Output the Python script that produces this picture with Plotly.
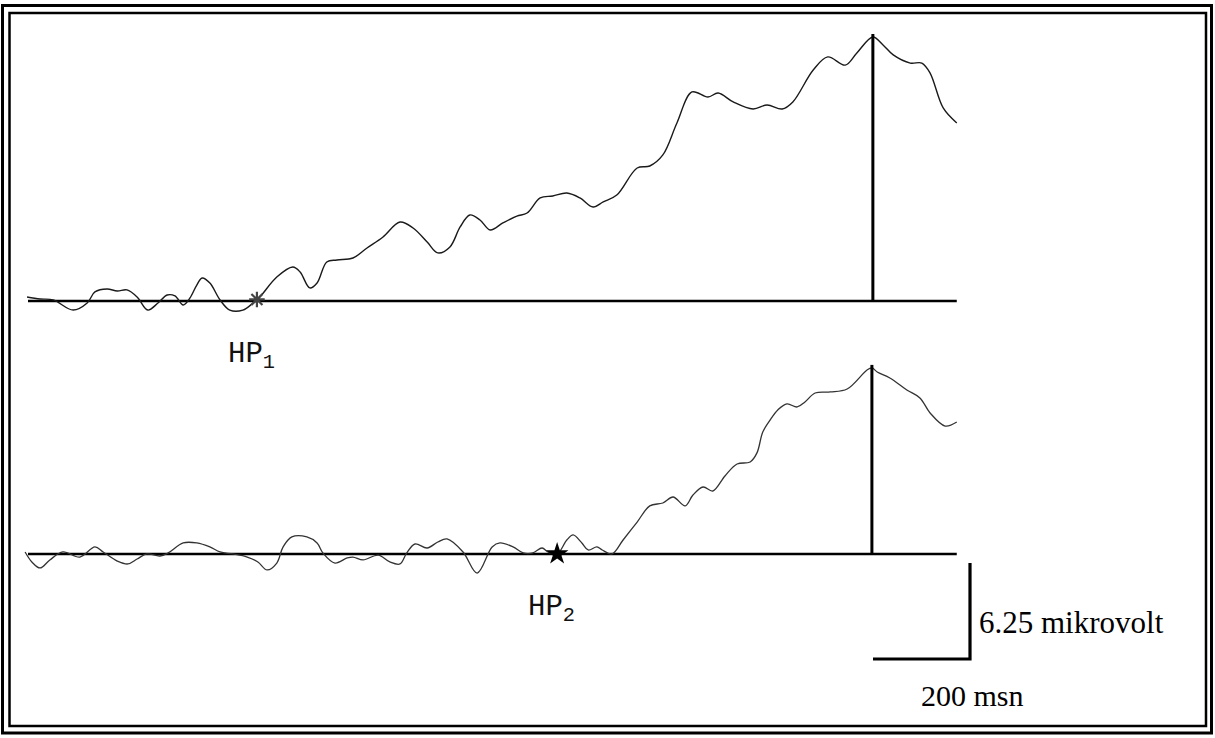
import plotly.graph_objects as go

# ---- data (time in ms, amplitude in microvolt) ----
top_t = [-2, 25, 52, 93, 122, 138, 163, 184, 204, 225, 247, 268, 287, 303, 320, 334, 348, 359, 375, 396,
         416, 443, 464, 478, 513, 546, 561, 581, 596, 616, 637, 670, 699, 732, 767, 794, 823, 845, 870, 891,
         911, 932, 953, 979, 1008, 1029, 1056, 1082, 1111, 1138, 1165, 1186, 1214, 1256, 1282, 1309, 1338,
         1369, 1402, 1423, 1454, 1495, 1524, 1555, 1577, 1619, 1649, 1685, 1709, 1742, 1763, 1784, 1819,
         1843, 1860, 1887, 1915]
top_v = [0.26, 0.13, 0.07, -0.59, -0.13, 0.59, 0.78, 0.65, 0.72, 0.26, -0.59, -0.13, 0.39, 0.33, -0.26, 0.20,
         1.04, 1.50, 1.17, 0.07, -0.59, -0.59, -0.13, 0.26, 1.56, 2.21, 1.89, 0.85, 1.17, 2.54, 2.67, 2.80,
         3.45, 4.17, 5.14, 4.75, 3.84, 3.13, 3.52, 4.82, 5.60, 5.27, 4.62, 5.08, 5.53, 5.73, 6.71, 6.84, 7.03,
         6.71, 6.12, 6.45, 6.90, 8.66, 8.79, 9.51, 11.59, 13.61, 13.28, 13.54, 12.96, 12.50, 12.76, 12.50,
         12.96, 15.04, 15.89, 15.36, 16.15, 17.19, 16.67, 16.02, 15.49, 15.49, 14.84, 12.57, 11.59]

bot_t = [-6, 8, 25, 45, 72, 107, 138, 155, 184, 206, 225, 245, 272, 289, 320, 348, 375, 396, 423, 452,
         474, 493, 513, 526, 544, 575, 596, 608, 633, 658, 670, 691, 722, 746, 767, 781, 798, 823, 845, 864,
         897, 926, 957, 973, 1000, 1021, 1041, 1060, 1072, 1091, 1111, 1124, 1142, 1155, 1173, 1184, 1204,
         1227, 1256, 1282, 1309, 1330, 1355, 1371, 1392, 1412, 1437, 1462, 1489, 1503, 1515, 1530, 1546,
         1565, 1586, 1602, 1623, 1654, 1689, 1730, 1740, 1751, 1777, 1812, 1839, 1860, 1891, 1915]
bot_v = [0.13, -0.52, -0.91, -0.39, 0.13, -0.20, 0.46, 0.13, -0.46, -0.65, -0.33, 0.0, -0.13, 0.07, 0.72,
         0.72, 0.46, 0.13, 0.0, -0.20, -0.52, -1.04, -0.59, 0.46, 1.11, 1.11, 0.72, 0.07, -0.59, -0.26, -0.20,
         -0.39, -0.07, -0.52, -0.65, 0.07, 0.65, 0.39, 0.78, 0.98, 0.13, -1.24, 0.46, 0.72, 0.46, 0.07, 0.07,
         0.39, 0.13, 0.0, 0.91, 1.24, 0.72, 0.26, 0.46, 0.26, 0.0, 0.91, 2.08, 3.13, 3.32, 3.71, 3.13, 3.84,
         4.36, 4.10, 5.08, 5.86, 5.99, 6.58, 7.94, 8.72, 9.38, 9.77, 9.57, 9.90, 10.48, 10.55, 10.74, 11.98,
         12.11, 11.85, 11.46, 10.68, 10.16, 9.18, 8.33, 8.59]

onset_t = [472, 1091]          # HP1, HP2 onset times (ms)
onset_labels = ["HP<sub>1</sub>", "HP<sub>2</sub>"]
baseline_t = [0, 1915]
scale_ms = 200
scale_uv = 6.25
scale_label_v = "6.25 mikrovolt"
scale_label_t = "200 msn"

# ---- layout helpers ----
GAP = 16.47          # vertical offset of the lower recording (microvolt)
PX_MS = 0.485        # pixels per ms
PX_UV = 15.36        # pixels per microvolt
X0 = -28 / PX_MS
X1 = (1215 - 28) / PX_MS
Y1 = 301 / PX_UV
Y0 = (301 - 738) / PX_UV

ink = "#1a1a1a"
fig = go.Figure()

# baselines
for off in (0, -GAP):
    fig.add_trace(go.Scatter(x=baseline_t, y=[off, off], mode="lines",
                             line=dict(color="#000", width=2.6), hoverinfo="skip"))

# recordings
fig.add_trace(go.Scatter(x=top_t, y=top_v, mode="lines", line=dict(color=ink, width=1.4, shape="spline"),
                         hoverinfo="skip"))
fig.add_trace(go.Scatter(x=bot_t, y=[v - GAP for v in bot_v], mode="lines",
                         line=dict(color="#333", width=1.3, shape="spline"), hoverinfo="skip"))

# vertical lines at the peaks
for ts, vs, off in ((top_t, top_v, 0), (bot_t, bot_v, -GAP)):
    i = max(range(len(vs)), key=lambda k: vs[k])
    fig.add_trace(go.Scatter(x=[ts[i], ts[i]], y=[off, vs[i] + off + 0.2], mode="lines",
                             line=dict(color="#000", width=3), hoverinfo="skip"))

# onset markers
fig.add_trace(go.Scatter(x=[onset_t[0]], y=[0.1], mode="markers",
                         marker=dict(symbol="asterisk-open", size=13, color="#444",
                                     line=dict(color="#444", width=2.2)),
                         hoverinfo="skip"))
fig.add_trace(go.Scatter(x=[onset_t[1]], y=[-GAP], mode="markers",
                         marker=dict(symbol="star", size=17, color="#000"), hoverinfo="skip"))

# onset labels
for t0, lab, off in zip(onset_t, onset_labels, (0, -GAP)):
    fig.add_annotation(x=t0 - 12, y=off - 3.6, text=lab, showarrow=False, xanchor="center", yanchor="middle",
                       font=dict(family="Liberation Mono, Courier New, monospace", size=29, color="#111"))

# scale bar
corner_t = (970 - 28) / PX_MS
corner_v = (301 - 659) / PX_UV
fig.add_trace(go.Scatter(x=[corner_t - scale_ms, corner_t, corner_t],
                         y=[corner_v, corner_v, corner_v + scale_uv], mode="lines",
                         line=dict(color="#000", width=3.2), hoverinfo="skip"))
fig.add_annotation(x=corner_t + 14, y=corner_v + scale_uv / 2 - 0.75, text=scale_label_v, showarrow=False,
                   xanchor="left", yanchor="middle",
                   font=dict(family="Liberation Serif, Times New Roman, serif", size=31, color="#000"))
fig.add_annotation(x=corner_t + 6, y=corner_v - 2.35, text=scale_label_t, showarrow=False,
                   xanchor="center", yanchor="middle",
                   font=dict(family="Liberation Serif, Times New Roman, serif", size=30, color="#000"))

# double frame
W, H = 1215, 738
def rect(x0, y0, x1, y1, w):
    return dict(type="rect", xref="paper", yref="paper", x0=x0 / W, x1=x1 / W, y0=1 - y1 / H, y1=1 - y0 / H,
                line=dict(color="#000", width=w), fillcolor="rgba(0,0,0,0)")

fig.update_layout(
    width=W, height=H, margin=dict(l=0, r=0, t=0, b=0),
    paper_bgcolor="white", plot_bgcolor="white", showlegend=False,
    xaxis=dict(range=[X0, X1], visible=False, fixedrange=True),
    yaxis=dict(range=[Y0, Y1], visible=False, fixedrange=True),
    shapes=[rect(2.5, 5.5, 1211.5, 733, 3), rect(9.5, 13, 1206, 726, 2.5)],
)

fig.write_html("out.html", config={"displayModeBar": False, "responsive": False},
               post_script="document.body.style.margin='0';")
